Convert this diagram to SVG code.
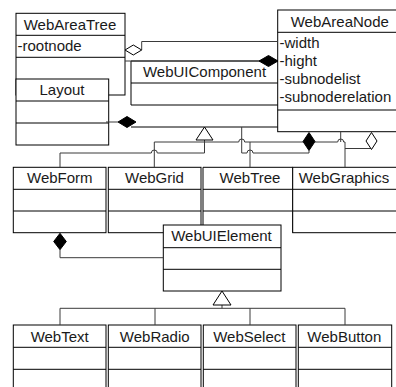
<svg xmlns="http://www.w3.org/2000/svg" width="396" height="387" viewBox="0 0 396 387">
  <style>
    .box { fill: #ffffff; stroke: #000000; stroke-width: 1; }
    .sep { fill: none; stroke: #000000; stroke-width: 1; }
    .c { fill: none; stroke: #3a3a3a; stroke-width: 1; }
    .filled { fill: #000000; stroke: #000000; stroke-width: 1; }
    .hollow { fill: #ffffff; stroke: #000000; stroke-width: 1; }
    text { font-family: "Liberation Sans", Arial, sans-serif; font-size: 15px; fill: #1a1a1a; }
    .t { text-anchor: middle; }
  </style>
  <rect width="396" height="387" fill="#ffffff"/>

  <!-- upper class cluster -->
  <g id="WebAreaTree">
    <rect class="box" x="16" y="13.3" width="109" height="81.7"/>
    <path class="sep" d="M16,35.3 H125 M16,57.3 H125"/>
    <text class="t" x="70" y="30">WebAreaTree</text>
    <text x="17.5" y="50.5">-rootnode</text>
  </g>

  <g id="Layout">
    <rect class="box" x="16" y="79" width="92.7" height="66"/>
    <path class="sep" d="M16,101 H108.7 M16,123 H108.7"/>
    <text class="t" x="62" y="95">Layout</text>
  </g>

  <g id="WebUIComponent">
    <rect x="131" y="61" width="147" height="66" fill="#ffffff"/>
    <path class="sep" d="M278,61 H131 V105 M131,83 H278 M131,105 H278 M131,127 H278"/>
    <text class="t" x="204.5" y="76.5">WebUIComponent</text>
  </g>

  <g id="WebAreaNode">
    <rect class="box" x="277.7" y="10" width="120" height="121.7"/>
    <path class="sep" d="M277.7,32.3 H398 M277.7,110 H398"/>
    <text class="t" x="339.8" y="27">WebAreaNode</text>
    <text x="279.5" y="48.3">-width</text>
    <text x="279.5" y="66.1">-hight</text>
    <text x="279.5" y="83.9">-subnodelist</text>
    <text x="279.5" y="101.7">-subnoderelation</text>
  </g>

  <!-- middle row -->
  <g id="WebForm">
    <rect class="box" x="13.3" y="167.3" width="92.7" height="65.4"/>
    <path class="sep" d="M13.3,189.3 H106 M13.3,211 H106"/>
    <text class="t" x="59.8" y="183.3">WebForm</text>
  </g>

  <g id="WebGrid">
    <rect class="box" x="108.3" y="167.3" width="92.7" height="65.4"/>
    <path class="sep" d="M108.3,189.3 H201 M108.3,211 H201"/>
    <text class="t" x="154.5" y="183.3">WebGrid</text>
  </g>

  <g id="WebTree">
    <rect x="203" y="167.3" width="89.7" height="65.4" fill="#ffffff"/>
    <path class="sep" d="M281,232.7 H203 V167.3 H292.7 V232.7 M203,189.3 H292.7 M203,211 H292.7"/>
    <text class="t" x="250" y="183.3">WebTree</text>
  </g>

  <g id="WebGraphics">
    <rect class="box" x="292.7" y="167.3" width="106" height="65.4"/>
    <path class="sep" d="M292.7,189.3 H398 M292.7,211 H398"/>
    <text class="t" x="344" y="183.3">WebGraphics</text>
  </g>

  <g id="WebUIElement">
    <rect class="box" x="163.3" y="225" width="117.7" height="66"/>
    <path class="sep" d="M163.3,247.7 H281 M163.3,269.3 H281"/>
    <text class="t" x="221.5" y="240.5">WebUIElement</text>
  </g>

  <!-- bottom row -->
  <g id="WebText">
    <rect class="box" x="13.3" y="325" width="92.7" height="66"/>
    <path class="sep" d="M13.3,347.3 H106 M13.3,369.3 H106"/>
    <text class="t" x="59.7" y="341.7">WebText</text>
  </g>

  <g id="WebRadio">
    <rect class="box" x="108.3" y="325" width="92.7" height="66"/>
    <path class="sep" d="M108.3,347.3 H201 M108.3,369.3 H201"/>
    <text class="t" x="154.7" y="341.7">WebRadio</text>
  </g>

  <g id="WebSelect">
    <rect class="box" x="203.3" y="325" width="92.7" height="66"/>
    <path class="sep" d="M203.3,347.3 H296 M203.3,369.3 H296"/>
    <text class="t" x="249.3" y="341.7">WebSelect</text>
  </g>

  <g id="WebButton">
    <rect class="box" x="298.3" y="325" width="93.4" height="66"/>
    <path class="sep" d="M298.3,347.3 H391.7 M298.3,369.3 H391.7"/>
    <text class="t" x="344.3" y="341.7">WebButton</text>
  </g>

  <!-- connectors, with line jumps where routes cross -->
  <g id="connectors">
    <!-- aggregation WebAreaTree - WebAreaNode -->
    <path class="c" d="M141.7,50 V41.5 H277.7"/>
    <polygon class="hollow" points="125,50 133.3,45 141.7,50 133.3,55"/>

    <!-- composition at WebAreaNode, left side -->
    <path class="c" d="M125,61 H259"/>
    <polygon class="filled" points="259,61 268.5,55.5 278,61 268.5,66.5"/>

    <!-- composition Layout -->
    <path class="c" d="M106,122 H118"/>
    <polygon class="filled" points="118,122 127,116.5 136,122 127,127.5"/>

    <!-- generalization to WebUIComponent -->
    <path class="c" d="M204.5,140 V153 H157.3 a3,3 0 0 0 -6,0 H60 V167.3"/>
    <polygon class="hollow" points="204.5,127 213,140 196,140"/>

    <!-- compositions under WebAreaNode -->
    <path class="c" d="M154.3,167.3 V142 H238.7 a3,3 0 0 1 6,0 H303 M315,142 H337.7 a3,3 0 0 1 6,0 H345 V167.3"/>
    <path class="c" d="M250,167.3 V142"/>
    <path class="c" d="M241.7,127 V153 H247 a3,3 0 0 1 6,0 H309 V150.5"/>
    <path class="c" d="M340.7,131.7 V142"/>
    <polygon class="filled" points="309,132.5 315,141.5 309,150.5 303,141.5"/>

    <!-- aggregation under WebAreaNode -->
    <path class="c" d="M345,148.5 H371"/>
    <polygon class="hollow" points="371.5,132.5 377,141 371.5,149.5 366,141"/>

    <!-- composition WebForm - WebUIElement -->
    <path class="c" d="M60,249.7 V257.7 H163.3"/>
    <polygon class="filled" points="60,233.3 66.3,241.5 60,249.7 53.7,241.5"/>

    <!-- generalization to WebUIElement -->
    <path class="c" d="M222,305 V308.3 M60,325 V308.3 H345 V325 M155,308.3 V325 M250,308.3 V325"/>
    <polygon class="hollow" points="222,291 231,305 213,305"/>
  </g>
</svg>
